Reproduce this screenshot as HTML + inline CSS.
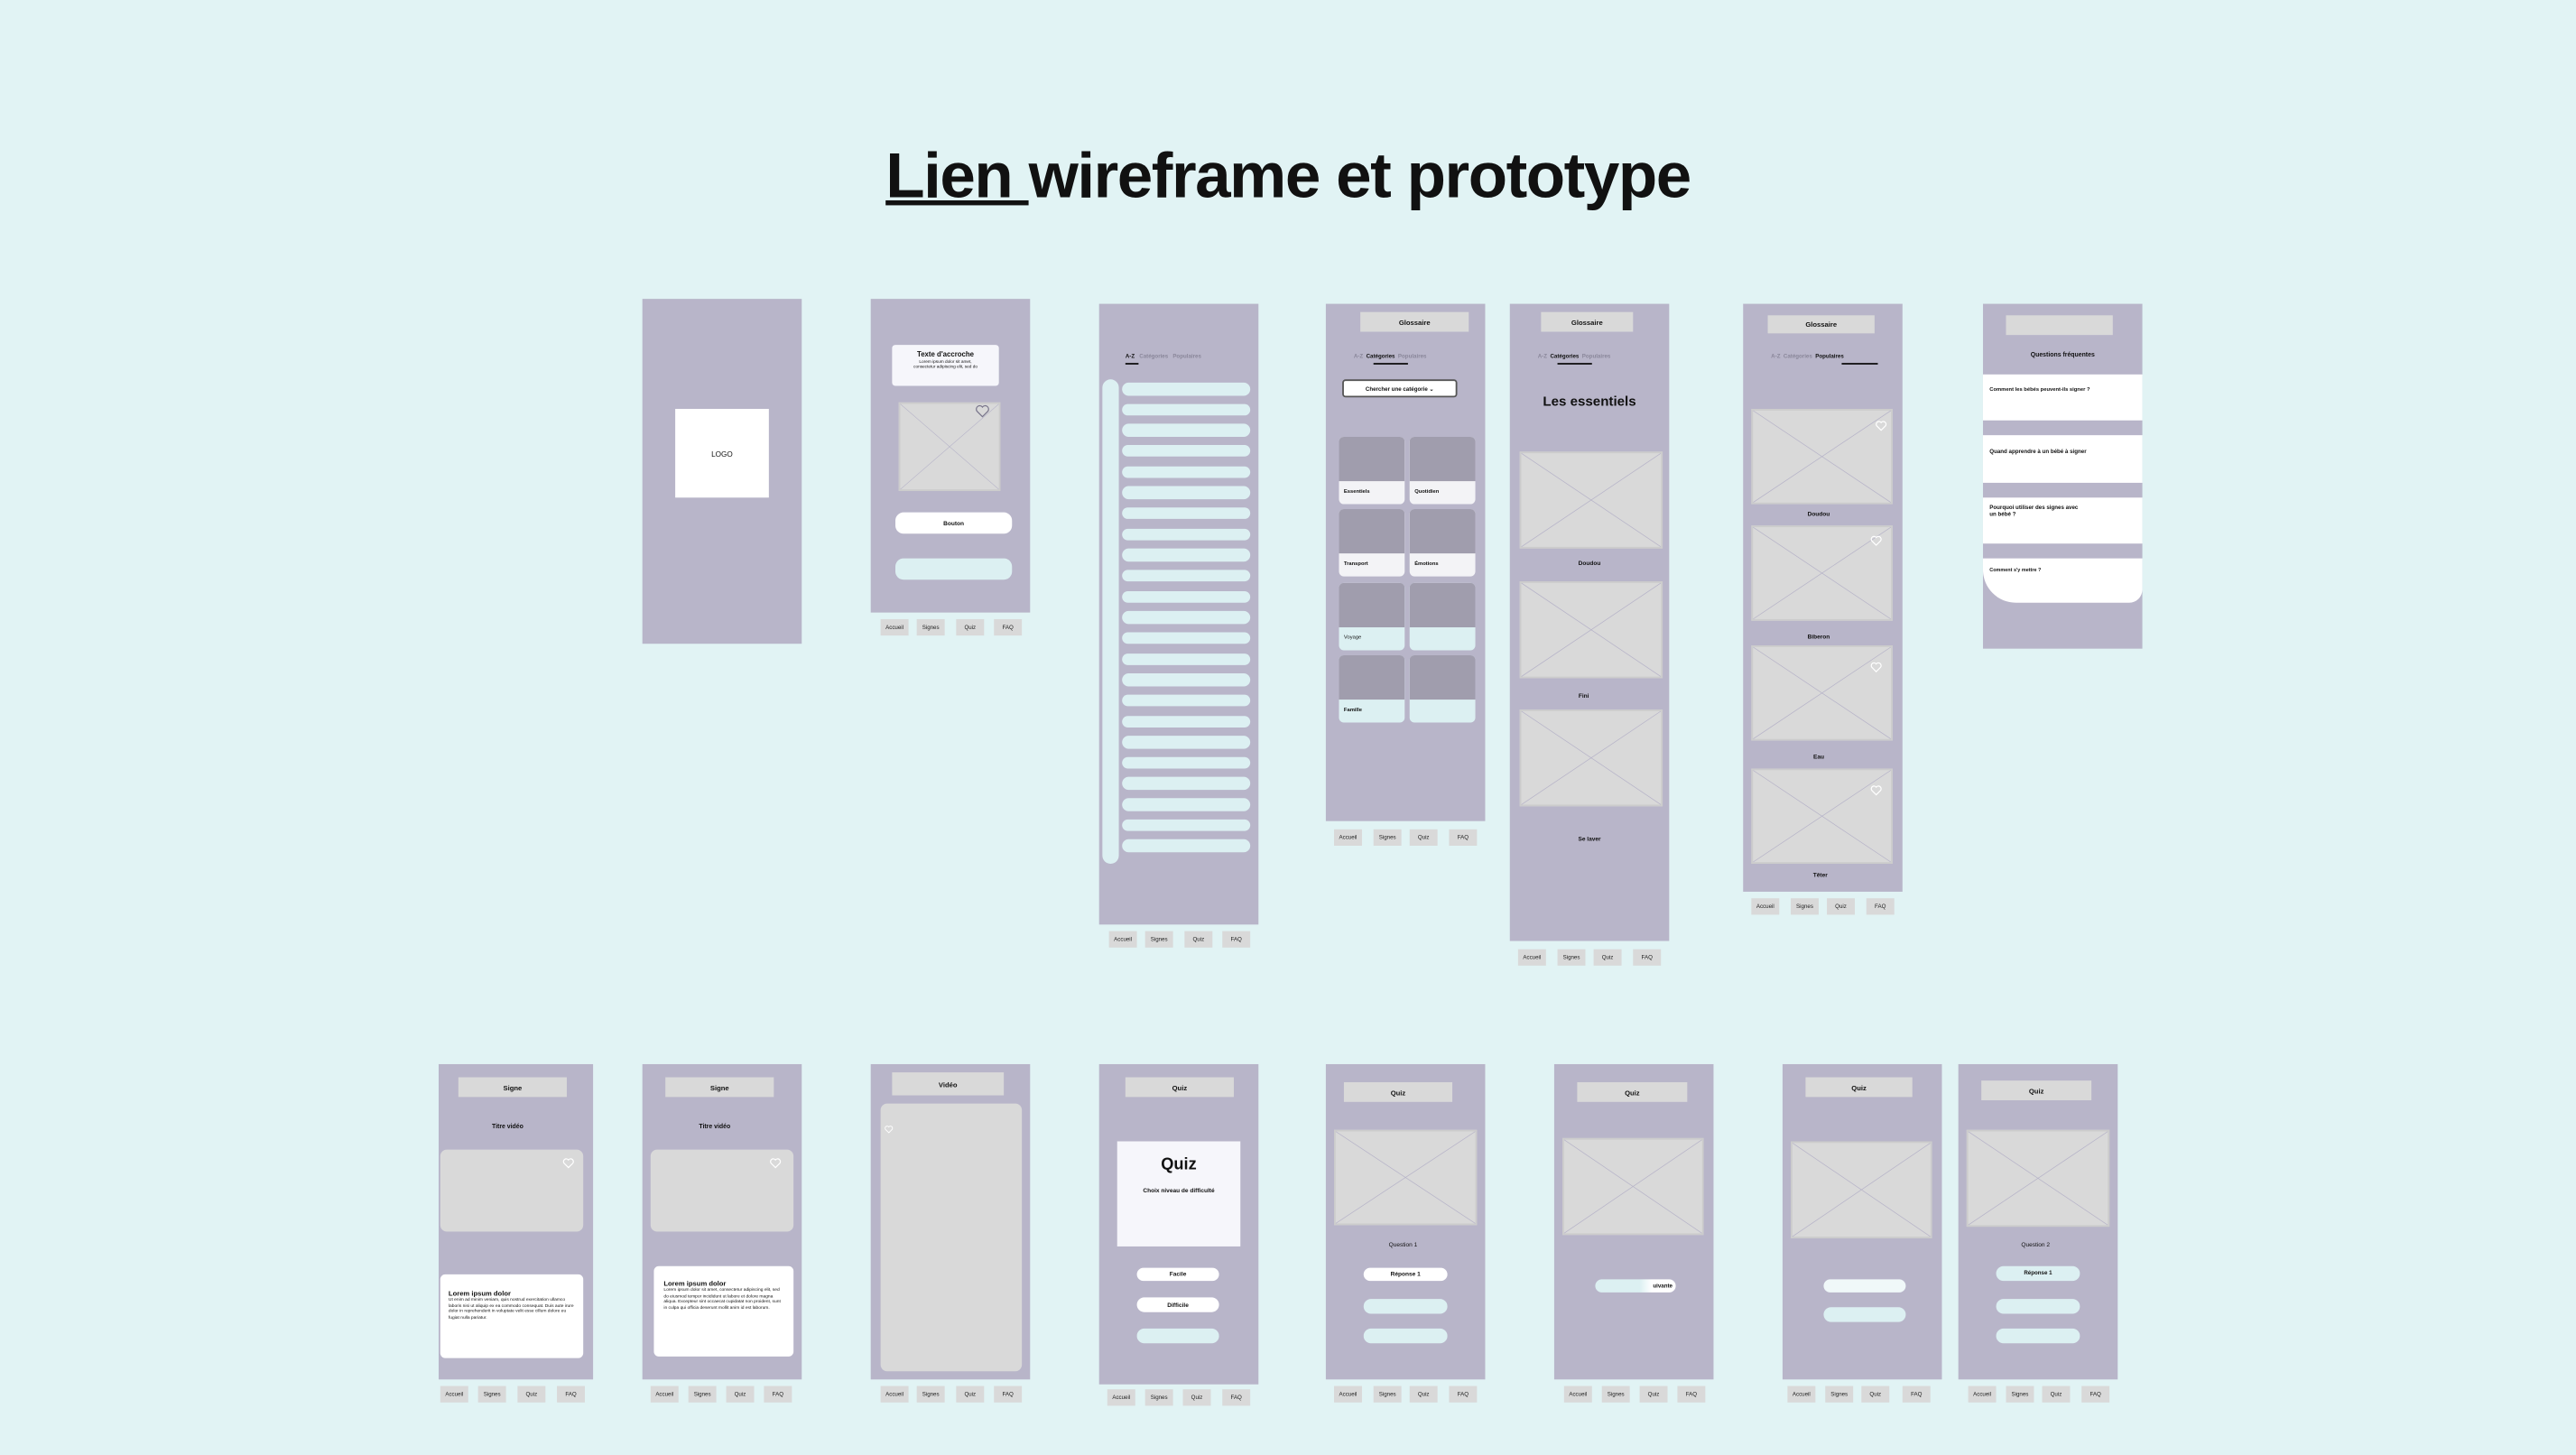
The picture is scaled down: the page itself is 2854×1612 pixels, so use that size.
<!DOCTYPE html>
<html><head><meta charset="utf-8">
<style>
html,body{margin:0;padding:0;background:#e1f3f4;width:2854px;height:1612px;overflow:hidden}
#w{position:absolute;left:0;top:0;width:1568px;height:886px;transform:scale(1.8202,1.8194);transform-origin:0 0;font-family:"Liberation Sans",sans-serif;color:#111}
.s{position:absolute;background:#b8b5c9}
.a{position:absolute}
.hd{position:absolute;background:#d9d9d9;font-size:4.2px;font-weight:bold;text-align:center;display:flex;align-items:center;justify-content:center}
.img{position:absolute;background:#d9d9d9;border:0.5px solid #ccc;box-sizing:border-box}
.img svg.x{position:absolute;left:0;top:0;width:100%;height:100%}
.pill{position:absolute;background:#dcf0f2;border-radius:5px}
.wp{position:absolute;background:#fff;border-radius:5px;font-size:3.6px;font-weight:bold;display:flex;align-items:center;justify-content:center}
.nav{position:absolute;height:11px}
.nav span{position:absolute;top:0;height:10px;width:17px;background:#d9d9d9;font-size:3.4px;display:flex;align-items:center;justify-content:center;color:#222}
.t{position:absolute;font-size:3.6px;font-weight:bold;text-align:center;white-space:nowrap}
.tabs{position:absolute;font-size:3.4px;white-space:nowrap;color:#8a879a;font-weight:bold}
svg.heart{position:absolute;width:8px;height:8px}
.card{position:absolute;width:40px;height:41px;border-radius:3px;overflow:hidden;background:#f3f3f6}
.card div{height:27px;background:#a09dad}
.card span{position:absolute;left:3px;top:31px;font-size:3.2px;font-weight:bold}
.faq{position:absolute;left:0;width:97px;background:#fff;font-size:3.2px;font-weight:bold;box-sizing:border-box;padding:8px 4px}
.lor{font-size:2.7px;line-height:3.6px;font-weight:normal}
</style></head><body>
<div id="w">
<div class="a" style="left:0;top:86px;width:1568px;text-align:center;font-size:39px;font-weight:bold;letter-spacing:-0.8px"><span style="text-decoration:underline;text-decoration-thickness:2.5px">Lien </span>wireframe et prototype</div>

<!-- screen 1 -->
<div class="s" style="left:391px;top:182px;width:97px;height:210px">
 <div class="a" style="left:20px;top:67px;width:57px;height:54px;background:#fff;font-size:4.5px;display:flex;align-items:center;justify-content:center">LOGO</div>
</div>

<!-- screen 2 -->
<div class="s" style="left:530px;top:182px;width:97px;height:191px">
 <div class="a" style="left:13px;top:28px;width:65px;height:25px;background:#f6f6fb;border-radius:2px;text-align:center">
  <div style="font-size:4.3px;font-weight:bold;margin-top:3px">Texte d'accroche</div>
  <div style="font-size:2.6px;line-height:3px;margin-top:1px">Lorem ipsum dolor sit amet,<br>consectetur adipiscing elit, sed do</div>
 </div>
 <div class="img" style="left:17px;top:63px;width:62px;height:54px"><svg class="x" viewBox="0 0 100 100" preserveAspectRatio="none"><path d="M0 0L100 100M100 0L0 100" stroke="#b6b3c8" stroke-width="0.6" fill="none"/></svg>
 <svg class="heart" style="left:45px;top:-1px;width:10px;height:10px" viewBox="0 0 24 24"><path d="M12 21l-8-8a5 5 0 0 1 8-6 5 5 0 0 1 8 6z" fill="none" stroke="#77748a" stroke-width="1.6"/></svg></div>
 <div class="wp" style="left:15px;top:130px;width:71px;height:13px">Bouton</div>
 <div class="pill" style="left:15px;top:158px;width:71px;height:13px"></div>
</div>
<div class="nav" style="left:530px;top:377px"><span style="left:6px">Accueil</span><span style="left:28px">Signes</span><span style="left:52px">Quiz</span><span style="left:75px">FAQ</span></div>

<!-- screen 3 -->
<div class="s" style="left:669px;top:185px;width:97px;height:378px">
 <div class="tabs" style="left:16px;top:30px"><span style="color:#111">A-Z</span>&nbsp;&nbsp;&nbsp;Catégories&nbsp;&nbsp;&nbsp;Populaires</div>
 <div class="a" style="left:16px;top:36px;width:8px;height:1px;background:#111"></div>
 <div class="pill" style="left:2px;top:46px;width:10px;height:295px"></div>
 <div class="a" style="left:14px;top:48px;width:78px">
  <div style="height:7.5px;background:#dcf0f2;border-radius:4px;margin-bottom:5.17px"></div><div style="height:7.5px;background:#dcf0f2;border-radius:4px;margin-bottom:5.17px"></div><div style="height:7.5px;background:#dcf0f2;border-radius:4px;margin-bottom:5.17px"></div><div style="height:7.5px;background:#dcf0f2;border-radius:4px;margin-bottom:5.17px"></div><div style="height:7.5px;background:#dcf0f2;border-radius:4px;margin-bottom:5.17px"></div><div style="height:7.5px;background:#dcf0f2;border-radius:4px;margin-bottom:5.17px"></div><div style="height:7.5px;background:#dcf0f2;border-radius:4px;margin-bottom:5.17px"></div><div style="height:7.5px;background:#dcf0f2;border-radius:4px;margin-bottom:5.17px"></div><div style="height:7.5px;background:#dcf0f2;border-radius:4px;margin-bottom:5.17px"></div><div style="height:7.5px;background:#dcf0f2;border-radius:4px;margin-bottom:5.17px"></div><div style="height:7.5px;background:#dcf0f2;border-radius:4px;margin-bottom:5.17px"></div><div style="height:7.5px;background:#dcf0f2;border-radius:4px;margin-bottom:5.17px"></div><div style="height:7.5px;background:#dcf0f2;border-radius:4px;margin-bottom:5.17px"></div><div style="height:7.5px;background:#dcf0f2;border-radius:4px;margin-bottom:5.17px"></div><div style="height:7.5px;background:#dcf0f2;border-radius:4px;margin-bottom:5.17px"></div><div style="height:7.5px;background:#dcf0f2;border-radius:4px;margin-bottom:5.17px"></div><div style="height:7.5px;background:#dcf0f2;border-radius:4px;margin-bottom:5.17px"></div><div style="height:7.5px;background:#dcf0f2;border-radius:4px;margin-bottom:5.17px"></div><div style="height:7.5px;background:#dcf0f2;border-radius:4px;margin-bottom:5.17px"></div><div style="height:7.5px;background:#dcf0f2;border-radius:4px;margin-bottom:5.17px"></div><div style="height:7.5px;background:#dcf0f2;border-radius:4px;margin-bottom:5.17px"></div><div style="height:7.5px;background:#dcf0f2;border-radius:4px;margin-bottom:5.17px"></div><div style="height:7.5px;background:#dcf0f2;border-radius:4px;margin-bottom:5.17px"></div>
 </div>
</div>
<div class="nav" style="left:669px;top:567px"><span style="left:6px">Accueil</span><span style="left:28px">Signes</span><span style="left:52px">Quiz</span><span style="left:75px">FAQ</span></div>

<!-- screen 4 -->
<div class="s" style="left:807px;top:185px;width:97px;height:315px">
 <div class="hd" style="left:21px;top:5px;width:66px;height:12px">Glossaire</div>
 <div class="tabs" style="left:17px;top:30px">A-Z&nbsp;&nbsp;<span style="color:#111">Catégories</span>&nbsp;&nbsp;Populaires</div>
 <div class="a" style="left:29px;top:36px;width:21px;height:1px;background:#111"></div>
 <div class="a" style="left:10px;top:46px;width:70px;height:11px;background:#fff;border:0.5px solid #555;border-radius:2px;box-sizing:border-box;font-size:3.4px;font-weight:bold;display:flex;align-items:center;justify-content:center">Chercher une catégorie ⌄</div>
 <div class="card" style="left:8px;top:81px"><div></div><span>Essentiels</span></div>
 <div class="card" style="left:51px;top:81px"><div></div><span>Quotidien</span></div>
 <div class="card" style="left:8px;top:125px"><div></div><span>Transport</span></div>
 <div class="card" style="left:51px;top:125px"><div></div><span>Émotions</span></div>
 <div class="card" style="left:8px;top:170px;background:#dcf0f2"><div></div><span style="font-weight:normal">Voyage</span></div>
 <div class="card" style="left:51px;top:170px;background:#dcf0f2"><div></div></div>
 <div class="card" style="left:8px;top:214px;background:#dcf0f2"><div></div><span>Famille</span></div>
 <div class="card" style="left:51px;top:214px;background:#dcf0f2"><div></div></div>
</div>
<div class="nav" style="left:807px;top:505px"><span style="left:5px">Accueil</span><span style="left:29px">Signes</span><span style="left:51px">Quiz</span><span style="left:75px">FAQ</span></div>

<!-- screen 5 -->
<div class="s" style="left:919px;top:185px;width:97px;height:388px">
 <div class="hd" style="left:19px;top:5px;width:56px;height:12px">Glossaire</div>
 <div class="tabs" style="left:17px;top:30px">A-Z&nbsp;&nbsp;<span style="color:#111">Catégories</span>&nbsp;&nbsp;Populaires</div>
 <div class="a" style="left:29px;top:36px;width:21px;height:1px;background:#111"></div>
 <div class="t" style="left:0;width:97px;top:54px;font-size:8.3px">Les essentiels</div>
 <div class="img" style="left:6px;top:90px;width:87px;height:59px"><svg class="x" viewBox="0 0 100 100" preserveAspectRatio="none"><path d="M0 0L100 100M100 0L0 100" stroke="#b6b3c8" stroke-width="0.6" fill="none"/></svg></div>
 <div class="t" style="left:0;width:97px;top:156px">Doudou</div>
 <div class="img" style="left:6px;top:169px;width:87px;height:59px"><svg class="x" viewBox="0 0 100 100" preserveAspectRatio="none"><path d="M0 0L100 100M100 0L0 100" stroke="#b6b3c8" stroke-width="0.6" fill="none"/></svg></div>
 <div class="t" style="left:0;width:90px;top:237px">Fini</div>
 <div class="img" style="left:6px;top:247px;width:87px;height:59px"><svg class="x" viewBox="0 0 100 100" preserveAspectRatio="none"><path d="M0 0L100 100M100 0L0 100" stroke="#b6b3c8" stroke-width="0.6" fill="none"/></svg></div>
 <div class="t" style="left:0;width:97px;top:324px">Se laver</div>
</div>
<div class="nav" style="left:919px;top:578px"><span style="left:5px">Accueil</span><span style="left:29px">Signes</span><span style="left:51px">Quiz</span><span style="left:75px">FAQ</span></div>

<!-- screen 6 -->
<div class="s" style="left:1061px;top:185px;width:97px;height:358px">
 <div class="hd" style="left:15px;top:7px;width:65px;height:11px">Glossaire</div>
 <div class="tabs" style="left:17px;top:30px">A-Z&nbsp;&nbsp;Catégories&nbsp;&nbsp;<span style="color:#111">Populaires</span></div>
 <div class="a" style="left:60px;top:36px;width:22px;height:1px;background:#111"></div>
 <div class="img" style="left:5px;top:64px;width:86px;height:58px"><svg class="x" viewBox="0 0 100 100" preserveAspectRatio="none"><path d="M0 0L100 100M100 0L0 100" stroke="#b6b3c8" stroke-width="0.6" fill="none"/></svg><svg class="heart" style="left:74px;top:5px" viewBox="0 0 24 24"><path d="M12 21l-8-8a5 5 0 0 1 8-6 5 5 0 0 1 8 6z" fill="none" stroke="#fff" stroke-width="2"/></svg></div>
 <div class="t" style="left:0;width:92px;top:126px">Doudou</div>
 <div class="img" style="left:5px;top:135px;width:86px;height:58px"><svg class="x" viewBox="0 0 100 100" preserveAspectRatio="none"><path d="M0 0L100 100M100 0L0 100" stroke="#b6b3c8" stroke-width="0.6" fill="none"/></svg><svg class="heart" style="left:71px;top:4px" viewBox="0 0 24 24"><path d="M12 21l-8-8a5 5 0 0 1 8-6 5 5 0 0 1 8 6z" fill="none" stroke="#fff" stroke-width="2"/></svg></div>
 <div class="t" style="left:0;width:92px;top:201px">Biberon</div>
 <div class="img" style="left:5px;top:208px;width:86px;height:58px"><svg class="x" viewBox="0 0 100 100" preserveAspectRatio="none"><path d="M0 0L100 100M100 0L0 100" stroke="#b6b3c8" stroke-width="0.6" fill="none"/></svg><svg class="heart" style="left:71px;top:8px" viewBox="0 0 24 24"><path d="M12 21l-8-8a5 5 0 0 1 8-6 5 5 0 0 1 8 6z" fill="none" stroke="#fff" stroke-width="2"/></svg></div>
 <div class="t" style="left:0;width:92px;top:274px">Eau</div>
 <div class="img" style="left:5px;top:283px;width:86px;height:58px"><svg class="x" viewBox="0 0 100 100" preserveAspectRatio="none"><path d="M0 0L100 100M100 0L0 100" stroke="#b6b3c8" stroke-width="0.6" fill="none"/></svg><svg class="heart" style="left:71px;top:8px" viewBox="0 0 24 24"><path d="M12 21l-8-8a5 5 0 0 1 8-6 5 5 0 0 1 8 6z" fill="none" stroke="#fff" stroke-width="2"/></svg></div>
 <div class="t" style="left:0;width:94px;top:346px">Têter</div>
</div>
<div class="nav" style="left:1061px;top:547px"><span style="left:5px">Accueil</span><span style="left:29px">Signes</span><span style="left:51px">Quiz</span><span style="left:75px">FAQ</span></div>

<!-- screen 7 FAQ -->
<div class="s" style="left:1207px;top:185px;width:97px;height:210px">
 <div class="hd" style="left:14px;top:7px;width:65px;height:12px"></div>
 <div class="t" style="left:0;width:97px;top:29px;font-size:3.8px">Questions fréquentes</div>
 <div class="faq" style="top:43px;height:28px;padding-top:7px">Comment les bébés peuvent-ils signer ?</div>
 <div class="faq" style="top:80px;height:29px;font-size:3.4px">Quand apprendre à un bébé à signer</div>
 <div class="faq" style="top:118px;height:28px;padding-top:4px;font-size:3.4px">Pourquoi utiliser des signes avec<br>un bébé ?</div>
 <div class="faq" style="top:155px;height:27px;padding-top:5px;font-size:3px;border-radius:0 0 8px 20px">Comment s'y mettre ?</div>
</div>

<!-- ROW 2 -->
<div class="s" style="left:267px;top:648px;width:94px;height:192px">
 <div class="hd" style="left:12px;top:8px;width:66px;height:12px">Signe</div>
 <div class="t" style="left:0;width:84px;top:36px;font-size:3.8px">Titre vidéo</div>
 <div class="img" style="left:1px;top:52px;width:87px;height:50px;border-radius:4px;border:none"><svg class="heart" style="left:74px;top:4px" viewBox="0 0 24 24"><path d="M12 21l-8-8a5 5 0 0 1 8-6 5 5 0 0 1 8 6z" fill="none" stroke="#fff" stroke-width="2"/></svg></div>
 <div class="a" style="left:1px;top:128px;width:87px;height:51px;background:#fff;border-radius:3px;padding:9px 5px;box-sizing:border-box"><div style="font-size:4.2px;font-weight:bold">Lorem ipsum dolor</div><div class="lor">Ut enim ad minim veniam, quis nostrud exercitation ullamco laboris nisi ut aliquip ex ea commodo consequat. Duis aute irure dolor in reprehenderit in voluptate velit esse cillum dolore eu fugiat nulla pariatur.</div></div>
</div>
<div class="nav" style="left:267px;top:844px"><span style="left:1px">Accueil</span><span style="left:24px">Signes</span><span style="left:48px">Quiz</span><span style="left:72px">FAQ</span></div>

<div class="s" style="left:391px;top:648px;width:97px;height:192px">
 <div class="hd" style="left:14px;top:8px;width:66px;height:12px">Signe</div>
 <div class="t" style="left:0;width:88px;top:36px;font-size:3.8px">Titre vidéo</div>
 <div class="img" style="left:5px;top:52px;width:87px;height:50px;border-radius:4px;border:none"><svg class="heart" style="left:72px;top:4px" viewBox="0 0 24 24"><path d="M12 21l-8-8a5 5 0 0 1 8-6 5 5 0 0 1 8 6z" fill="none" stroke="#fff" stroke-width="2"/></svg></div>
 <div class="a" style="left:7px;top:123px;width:85px;height:55px;background:#fff;border-radius:3px;padding:8px 6px;box-sizing:border-box"><div style="font-size:4.2px;font-weight:bold">Lorem ipsum dolor</div><div class="lor">Lorem ipsum dolor sit amet, consectetur adipiscing elit, sed do eiusmod tempor incididunt ut labore et dolore magna aliqua. Excepteur sint occaecat cupidatat non proident, sunt in culpa qui officia deserunt mollit anim id est laborum.</div></div>
</div>
<div class="nav" style="left:391px;top:844px"><span style="left:5px">Accueil</span><span style="left:28px">Signes</span><span style="left:51px">Quiz</span><span style="left:74px">FAQ</span></div>

<div class="s" style="left:530px;top:648px;width:97px;height:192px">
 <div class="hd" style="left:13px;top:5px;width:68px;height:14px">Vidéo</div>
 <div class="img" style="left:6px;top:24px;width:86px;height:163px;border-radius:4px;border:none"><svg class="heart" style="left:2px;top:12px;width:6px;height:7px" viewBox="0 0 24 24"><path d="M12 21l-8-8a5 5 0 0 1 8-6 5 5 0 0 1 8 6z" fill="none" stroke="#fff" stroke-width="2"/></svg></div>
</div>
<div class="nav" style="left:530px;top:844px"><span style="left:6px">Accueil</span><span style="left:28px">Signes</span><span style="left:52px">Quiz</span><span style="left:75px">FAQ</span></div>

<div class="s" style="left:669px;top:648px;width:97px;height:195px">
 <div class="hd" style="left:16px;top:8px;width:66px;height:12px">Quiz</div>
 <div class="a" style="left:11px;top:47px;width:75px;height:64px;background:#f6f6fb;text-align:center"><div style="font-size:10px;font-weight:bold;margin-top:9px">Quiz</div><div style="font-size:3.6px;font-weight:bold;margin-top:8px">Choix niveau de difficulté</div></div>
 <div class="wp" style="left:23px;top:124px;width:50px;height:8px">Facile</div>
 <div class="wp" style="left:23px;top:142px;width:50px;height:9px">Difficile</div>
 <div class="pill" style="left:23px;top:161px;width:50px;height:9px"></div>
</div>
<div class="nav" style="left:669px;top:846px"><span style="left:5px">Accueil</span><span style="left:28px">Signes</span><span style="left:51px">Quiz</span><span style="left:75px">FAQ</span></div>

<div class="s" style="left:807px;top:648px;width:97px;height:192px">
 <div class="hd" style="left:11px;top:11px;width:66px;height:12px">Quiz</div>
 <div class="img" style="left:5px;top:40px;width:87px;height:58px"><svg class="x" viewBox="0 0 100 100" preserveAspectRatio="none"><path d="M0 0L100 100M100 0L0 100" stroke="#b6b3c8" stroke-width="0.6" fill="none"/></svg></div>
 <div class="t" style="left:0;width:94px;top:108px;font-weight:normal">Question 1</div>
 <div class="wp" style="left:23px;top:124px;width:51px;height:8px">Réponse 1</div>
 <div class="pill" style="left:23px;top:143px;width:51px;height:9px"></div>
 <div class="pill" style="left:23px;top:161px;width:51px;height:9px"></div>
</div>
<div class="nav" style="left:807px;top:844px"><span style="left:5px">Accueil</span><span style="left:29px">Signes</span><span style="left:51px">Quiz</span><span style="left:75px">FAQ</span></div>

<div class="s" style="left:946px;top:648px;width:97px;height:192px">
 <div class="hd" style="left:14px;top:11px;width:67px;height:12px">Quiz</div>
 <div class="img" style="left:5px;top:45px;width:86px;height:59px"><svg class="x" viewBox="0 0 100 100" preserveAspectRatio="none"><path d="M0 0L100 100M100 0L0 100" stroke="#b6b3c8" stroke-width="0.6" fill="none"/></svg></div>
 <div class="pill" style="left:25px;top:131px;width:49px;height:8px;font-size:3.4px;font-weight:bold;text-align:right;line-height:8px;padding-right:2px;box-sizing:border-box;background:linear-gradient(90deg,#dcf0f2 55%,#fff 70%)">uivante</div>
</div>
<div class="nav" style="left:946px;top:844px"><span style="left:6px">Accueil</span><span style="left:29px">Signes</span><span style="left:52px">Quiz</span><span style="left:75px">FAQ</span></div>

<div class="s" style="left:1085px;top:648px;width:97px;height:192px">
 <div class="hd" style="left:14px;top:8px;width:65px;height:12px">Quiz</div>
 <div class="img" style="left:5px;top:47px;width:86px;height:59px"><svg class="x" viewBox="0 0 100 100" preserveAspectRatio="none"><path d="M0 0L100 100M100 0L0 100" stroke="#b6b3c8" stroke-width="0.6" fill="none"/></svg></div>
 <div class="pill" style="left:25px;top:131px;width:50px;height:8px;background:#f0f8f9"></div>
 <div class="pill" style="left:25px;top:148px;width:50px;height:9px"></div>
</div>
<div class="nav" style="left:1085px;top:844px"><span style="left:3px">Accueil</span><span style="left:26px">Signes</span><span style="left:48px">Quiz</span><span style="left:73px">FAQ</span></div>

<div class="s" style="left:1192px;top:648px;width:97px;height:192px">
 <div class="hd" style="left:14px;top:10px;width:67px;height:12px">Quiz</div>
 <div class="img" style="left:5px;top:40px;width:87px;height:59px"><svg class="x" viewBox="0 0 100 100" preserveAspectRatio="none"><path d="M0 0L100 100M100 0L0 100" stroke="#b6b3c8" stroke-width="0.6" fill="none"/></svg></div>
 <div class="t" style="left:0;width:94px;top:108px;font-weight:normal">Question 2</div>
 <div class="pill" style="left:23px;top:123px;width:51px;height:9px;font-size:3.4px;font-weight:bold;text-align:center;line-height:9px">Réponse 1</div>
 <div class="pill" style="left:23px;top:143px;width:51px;height:9px"></div>
 <div class="pill" style="left:23px;top:161px;width:51px;height:9px"></div>
</div>
<div class="nav" style="left:1192px;top:844px"><span style="left:6px">Accueil</span><span style="left:29px">Signes</span><span style="left:51px">Quiz</span><span style="left:75px">FAQ</span></div>

</div>
</body></html>
